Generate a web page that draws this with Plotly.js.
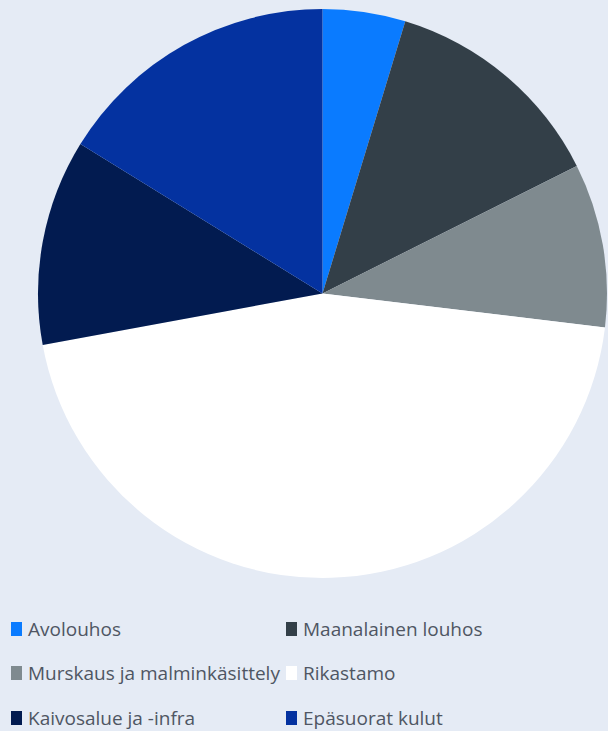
<!DOCTYPE html>
<html>
<head>
<meta charset="utf-8">
<script src="https://cdn.plot.ly/plotly-3.0.1.min.js"></script>
<style>html,body{margin:0;padding:0;background:#e5ebf5;}</style>
</head>
<body>
<div id="chart" style="width:608px;height:731px;"></div>
<script>
const labels = ["Avolouhos", "Maanalainen louhos", "Murskaus ja malminkäsittely", "Rikastamo", "Kaivosalue ja -infra", "Epäsuorat kulut"];
const values = [4.7, 12.9, 9.3, 45.2, 11.7, 16.2];
const colors = ["#0a7bff", "#333f48", "#7f8a8f", "#ffffff", "#021b50", "#0432a0"];

const W = 608, H = 731;
const colX = [11, 286];
const rowY = [629, 673, 718];
const shapes = [], annotations = [];
labels.forEach((lab, i) => {
  const cx = colX[i % 2], cy = rowY[Math.floor(i / 2)];
  shapes.push({type: "rect", xref: "paper", yref: "paper",
    x0: cx / W, x1: (cx + 11) / W, y0: 1 - (cy + 7) / H, y1: 1 - (cy - 7) / H,
    fillcolor: colors[i], line: {width: 0}});
  annotations.push({xref: "paper", yref: "paper", x: (cx + 15) / W, y: 1 - cy / H,
    xanchor: "left", yanchor: "middle", showarrow: false, text: lab,
    font: {family: "Open Sans, Arial, sans-serif", size: 19, color: "#4f5663"}});
});

const data = [{
  type: "pie", labels: labels, values: values, sort: false, direction: "clockwise", rotation: 0,
  marker: {colors: colors, line: {width: 0}}, textinfo: "none", hoverinfo: "label+percent",
  domain: {x: [38 / W, 607 / W], y: [(H - 578) / H, (H - 9) / H]}
}];
const layout = {
  width: W, height: H, margin: {l: 0, r: 0, t: 0, b: 0},
  paper_bgcolor: "#e5ebf5", plot_bgcolor: "#e5ebf5", showlegend: false,
  shapes: shapes, annotations: annotations
};
Plotly.newPlot("chart", data, layout, {displayModeBar: false});
</script>
</body>
</html>
